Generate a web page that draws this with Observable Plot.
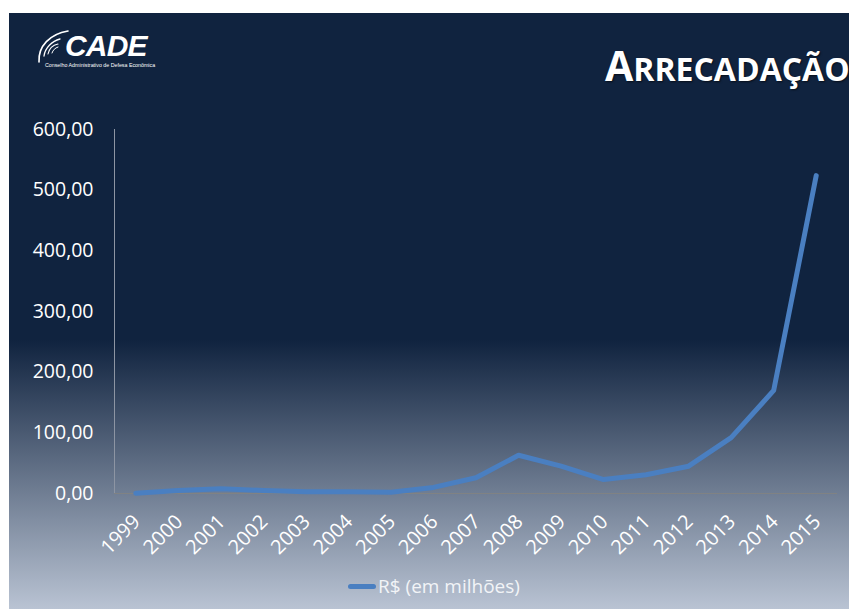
<!DOCTYPE html>
<html>
<head>
<meta charset="utf-8">
<script src="https://cdn.jsdelivr.net/npm/d3@7"></script>
<script src="https://cdn.jsdelivr.net/npm/@observablehq/plot@0.6"></script>
<style>
  html, body { margin: 0; padding: 0; background: #ffffff; width: 849px; height: 609px; overflow: hidden; }
  #slide { position: absolute; left: 9px; top: 13px; width: 840px; height: 596px;
    background: linear-gradient(to bottom, #10233f 0%, #10233f 54.9%, #b9c3d3 100%); }
  #chart { position: absolute; left: 0; top: 100px; }
  #title { position: absolute; left: 605px; top: 45px; white-space: nowrap; color: #ffffff; line-height: 1;
    font-family: "Open Sans", sans-serif; font-weight: 700; text-shadow: 1px 1px 2px rgba(0,0,0,0.6); }
  #title .big { font-size: 41px; }
  #title .small { font-size: 32px; }
  #legend { position: absolute; left: 348px; top: 573px; display: flex; align-items: center;
    font-family: "Open Sans", sans-serif; font-size: 19px; color: #f2f4f7; }
  #legend .sw { width: 28px; height: 5px; border-radius: 3px; background: #4a7fc1; margin-right: 2px; }
  #logo { position: absolute; left: 30px; top: 26px; }
</style>
</head>
<body>
<div id="slide"></div>
<svg id="logo" width="140" height="46" viewBox="0 0 140 46">
  <g fill="none" stroke="#ffffff" stroke-linecap="round">
    <path d="M9 36 C 8 20, 20 8, 38 5" stroke-width="1.6"/>
    <path d="M14 30 C 15 22, 22 15, 30 13" stroke-width="1.3"/>
    <path d="M18 28 C 19 23, 23 19, 28 18" stroke-width="1.1"/>
    <path d="M22 27 C 23 24, 25 22, 28 21" stroke-width="1"/>
  </g>
  <text x="35" y="30" fill="#ffffff" font-family="Liberation Sans, Arial, sans-serif" font-weight="700" font-style="italic" font-size="30" letter-spacing="-0.8">CADE</text>
  <text x="15" y="41" fill="#ffffff" font-family="Liberation Sans, Arial, sans-serif" font-size="5.3">Conselho Administrativo de Defesa Econômica</text>
</svg>
<div id="title"><span class="big">A</span><span class="small">RRECADAÇÃO</span></div>
<div id="chart"></div>
<div id="legend"><div class="sw"></div><span>R$ (em milhões)</span></div>
<script>
const years = [1999, 2000, 2001, 2002, 2003, 2004, 2005, 2006, 2007, 2008, 2009, 2010, 2011, 2012, 2013, 2014, 2015];
const values = [0.5, 5, 8, 5, 3, 3, 2, 10, 26, 63, 45, 23, 31, 45, 92, 170, 524];
const yTicks = [0, 100, 200, 300, 400, 500, 600];
const seriesName = "R$ (em milhões)";

const data = years.map((y, i) => ({year: y, value: values[i], series: seriesName}));

const chart = Plot.plot({
  width: 849,
  height: 470,
  marginLeft: 114,
  marginRight: 12,
  marginTop: 29,
  marginBottom: 77,
  style: {background: "transparent", color: "#ffffff", fontFamily: "Open Sans, sans-serif", overflow: "visible"},
  x: {domain: [years[0] - 0.5, years[years.length - 1] + 0.5], label: null},
  y: {domain: [0, 600], label: null},
  marks: [
    Plot.ruleY([0], {stroke: "#8a8578", strokeOpacity: 0.6, strokeWidth: 1}),
    Plot.ruleX([years[0] - 0.5], {y1: 0, y2: 600, stroke: "#8d95a3", strokeWidth: 1}),
    Plot.axisY({ticks: yTicks, tickSize: 0, tickPadding: 21, fontSize: 19.5, fill: "#ffffff",
      tickFormat: d => d.toFixed(2).replace(".", ","), label: null}),
    Plot.axisX({ticks: years, tickSize: 0, tickPadding: 25, tickRotate: -45, fontSize: 20, fill: "#ffffff",
      tickFormat: d => String(d), label: null, dx: 1}),
    Plot.line(data, {x: "year", y: "value", stroke: "#4a7fc1", strokeWidth: 5,
      strokeLinecap: "round", strokeLinejoin: "round"})
  ]
});
document.getElementById("chart").appendChild(chart);
</script>
</body>
</html>
